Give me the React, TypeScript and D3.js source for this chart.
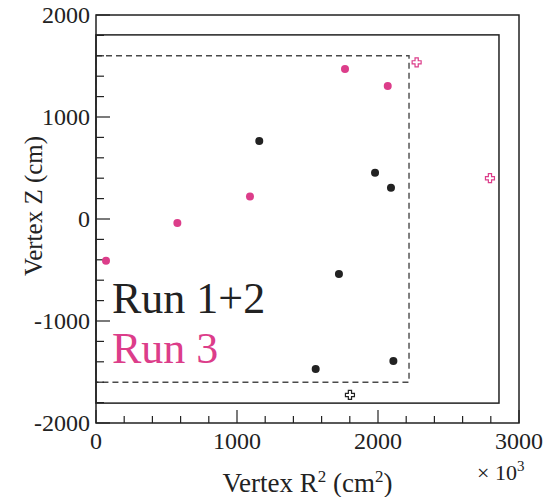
import React from "react";
import * as d3 from "d3";

// Data (R^2 in 10^3 cm^2, Z in cm)
const run12R2 = [1158, 1979, 2092, 1723, 1558, 2109];
const run12Z = [765, 454, 307, -539, -1470, -1392];
const run12OutR2 = [1801];
const run12OutZ = [-1725];
const run3R2 = [71, 577, 1092, 1766, 2069];
const run3Z = [-410, -40, 220, 1471, 1304];
const run3OutR2 = [2274, 2794];
const run3OutZ = [1536, 400];

const xTicksMajor = [0, 1000, 2000, 3000];
const yTicksMajor = [-2000, -1000, 0, 1000, 2000];
const detectorBox = [2858, 1805]; // R2 max, |Z| max
const fiducialBox = [2220, 1600];
const legendLabels = ["Run 1+2", "Run 3"];

const W = 555, H = 497;
const M = { left: 96, right: 519, top: 15, bottom: 423 };
const BLACK = "#222222";
const PINK = "#dc3d8a";
const FONT = "Liberation Serif";

function crossPath(cx: number, cy: number, h = 4.5, w = 1.6) {
  const p = [
    [-w, -h], [w, -h], [w, -w], [h, -w], [h, w], [w, w], [w, h], [-w, h], [-w, w], [-h, w], [-h, -w], [-w, -w],
  ];
  return "M" + p.map(([a, b]) => `${cx + a},${cy + b}`).join("L") + "Z";
}

export default function App() {
  const x = d3.scaleLinear().domain([0, 3000]).range([M.left, M.right]);
  const y = d3.scaleLinear().domain([-2000, 2000]).range([M.bottom, M.top]);
  const xMinor = d3.range(0, 3001, 200).filter((v) => v % 1000 !== 0);
  const yMinor = d3.range(-2000, 2001, 200).filter((v) => v % 1000 !== 0);
  const ts = { fontFamily: FONT };

  return (
    <svg
      width={W}
      height={H}
      style={{ position: "absolute", left: 0, top: 0, background: "#fff", fontFamily: FONT }}
    >
      <rect x={x(0)} y={y(detectorBox[1])} width={x(detectorBox[0]) - x(0)}
        height={y(-detectorBox[1]) - y(detectorBox[1])} fill="none" stroke={BLACK} strokeWidth={1.5} />
      <rect x={x(0)} y={y(fiducialBox[1])} width={x(fiducialBox[0]) - x(0)}
        height={y(-fiducialBox[1]) - y(fiducialBox[1])} fill="none" stroke="#4a4a4a" strokeWidth={1.4} strokeDasharray="6,4" />
      <rect x={M.left} y={M.top} width={M.right - M.left} height={M.bottom - M.top} fill="none" stroke={BLACK} strokeWidth={1.5} />
      {xTicksMajor.map((v) => (
        <line key={"xM" + v} x1={x(v)} x2={x(v)} y1={M.bottom} y2={M.bottom - 13} stroke={BLACK} strokeWidth={1.2} />
      ))}
      {xMinor.map((v) => (
        <line key={"xm" + v} x1={x(v)} x2={x(v)} y1={M.bottom} y2={M.bottom - 7} stroke={BLACK} strokeWidth={1.2} />
      ))}
      {yTicksMajor.map((v) => (
        <line key={"yM" + v} x1={M.left} x2={M.left + 14} y1={y(v)} y2={y(v)} stroke={BLACK} strokeWidth={1.2} />
      ))}
      {yMinor.map((v) => (
        <line key={"ym" + v} x1={M.left} x2={M.left + 8} y1={y(v)} y2={y(v)} stroke={BLACK} strokeWidth={1.2} />
      ))}
      {xTicksMajor.map((v) => (
        <text key={"xl" + v} x={x(v)} y={449} textAnchor="middle" fontSize={24} fill={BLACK} style={ts}>{v}</text>
      ))}
      {yTicksMajor.map((v) => (
        <text key={"yl" + v} x={90} y={y(v) + 8} textAnchor="end" fontSize={24} fill={BLACK} style={ts}>{v}</text>
      ))}
      <text x={477} y={480} fontSize={22} fill={BLACK} style={ts}>
        × 10<tspan dy={-9} fontSize={15}>3</tspan>
      </text>
      <text x={(M.left + M.right) / 2} y={492} textAnchor="middle" fontSize={27} fill={BLACK} style={ts}>
        Vertex R<tspan dy={-10} fontSize={17}>2</tspan>
        <tspan dy={10}> (cm</tspan>
        <tspan dy={-10} fontSize={17}>2</tspan>
        <tspan dy={10}>)</tspan>
      </text>
      <text transform={`translate(42,${206}) rotate(-90)`} textAnchor="middle" fontSize={25} fill={BLACK} style={ts}>
        Vertex Z (cm)
      </text>
      {run12R2.map((v, i) => (
        <circle key={"b" + i} cx={x(v)} cy={y(run12Z[i])} r={4} fill={BLACK} />
      ))}
      {run3R2.map((v, i) => (
        <circle key={"p" + i} cx={x(v)} cy={y(run3Z[i])} r={4} fill={PINK} />
      ))}
      {run12OutR2.map((v, i) => (
        <path key={"bo" + i} d={crossPath(x(v), y(run12OutZ[i]))} fill="#fff" stroke={BLACK} strokeWidth={1.2} />
      ))}
      {run3OutR2.map((v, i) => (
        <path key={"po" + i} d={crossPath(x(v), y(run3OutZ[i]))} fill="#fff" stroke={PINK} strokeWidth={1.2} />
      ))}
      <text x={112} y={313} fontSize={44} fill={BLACK} style={ts}>{legendLabels[0]}</text>
      <text x={112} y={363} fontSize={44} fill={PINK} style={ts}>{legendLabels[1]}</text>
    </svg>
  );
}
